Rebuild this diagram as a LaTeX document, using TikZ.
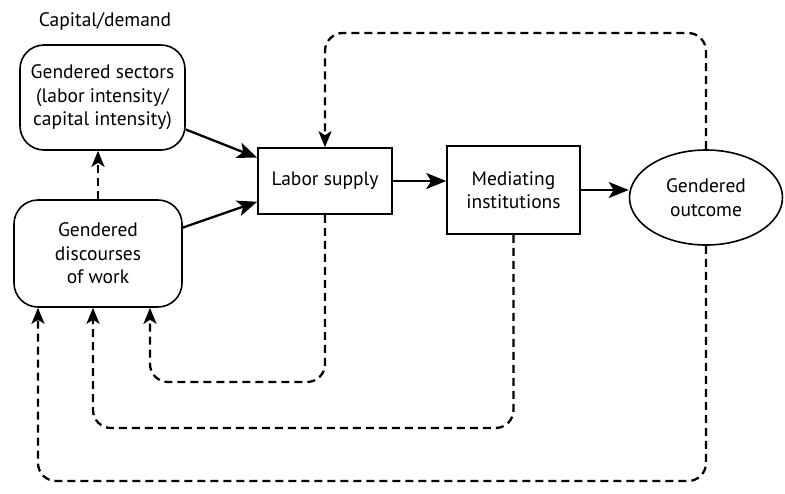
\documentclass[tikz,border=0pt]{standalone}
\usepackage{fontspec}
\setmainfont{PT Sans}
\usetikzlibrary{arrows.meta,shapes.geometric,calc}
\begin{document}
\begin{tikzpicture}[x=1pt,y=-1pt,
  every node/.style={font=\fontsize{19.5}{23.5}\selectfont, align=center},
  rbox/.style={draw, line width=1.6pt, rounded corners=24pt},
  sbox/.style={draw, line width=1.6pt},
  solidarrow/.style={line width=2.3pt, -{Stealth[length=20pt,width=16pt,inset=5pt]}},
  dasharrow/.style={line width=2.3pt, dash pattern=on 8pt off 5pt, rounded corners=18pt, -{Stealth[length=16pt,width=13pt,inset=4pt]}}]
\useasboundingbox (0,0) rectangle (785,493);
\fill[white] (0,0) rectangle (785,493);

\node (cap) at (105,22) {Capital/demand};
\node[rbox, minimum width=165pt, minimum height=105pt, inner sep=0pt] (sectors) at (102.5,97.5)
  {Gendered sectors\\(labor intensity/\\capital intensity)};
\node[rbox, minimum width=168pt, minimum height=107pt, inner sep=0pt] (disc) at (98,253.5)
  {Gendered\\discourses\\of work};
\node[sbox, minimum width=134pt, minimum height=66pt, inner sep=0pt] (labor) at (325,181) {Labor supply};
\node[sbox, minimum width=133pt, minimum height=88pt, inner sep=0pt] (med) at (513.5,190) {Mediating\\institutions};
\node[draw, ellipse, line width=1.6pt, minimum width=153pt, minimum height=95pt, inner sep=0pt] (out) at (706,197.5) {Gendered\\outcome};

\draw[solidarrow] (sectors.-21) -- (labor.161);
\draw[solidarrow] (disc.17) -- (labor.197);
\draw[solidarrow] (labor.east) -- (med.west |- labor.east);
\draw[solidarrow] (med.east) -- (out.west |- med.east);

\draw[dasharrow] (disc.north) -- (disc.north |- sectors.south);

\coordinate (top) at (0,33);
\draw[dasharrow] (out.north) -- (out.north |- top) -- (labor.north |- top) -- (labor.north);

\coordinate (d1) at ($(disc.south)+(52,0)$);
\coordinate (d2) at ($(disc.south)+(-5,0)$);
\coordinate (d3) at ($(disc.south)+(-60,0)$);
\coordinate (y1) at (0,382);
\coordinate (y2) at (0,428);
\coordinate (y3) at (0,481);

\draw[dasharrow] (labor.south) -- (labor.south |- y1) -- (d1 |- y1) -- (d1);
\draw[dasharrow] (med.south) -- (med.south |- y2) -- (d2 |- y2) -- (d2);
\draw[dasharrow] (out.south) -- (out.south |- y3) -- (d3 |- y3) -- (d3);
\end{tikzpicture}
\end{document}
